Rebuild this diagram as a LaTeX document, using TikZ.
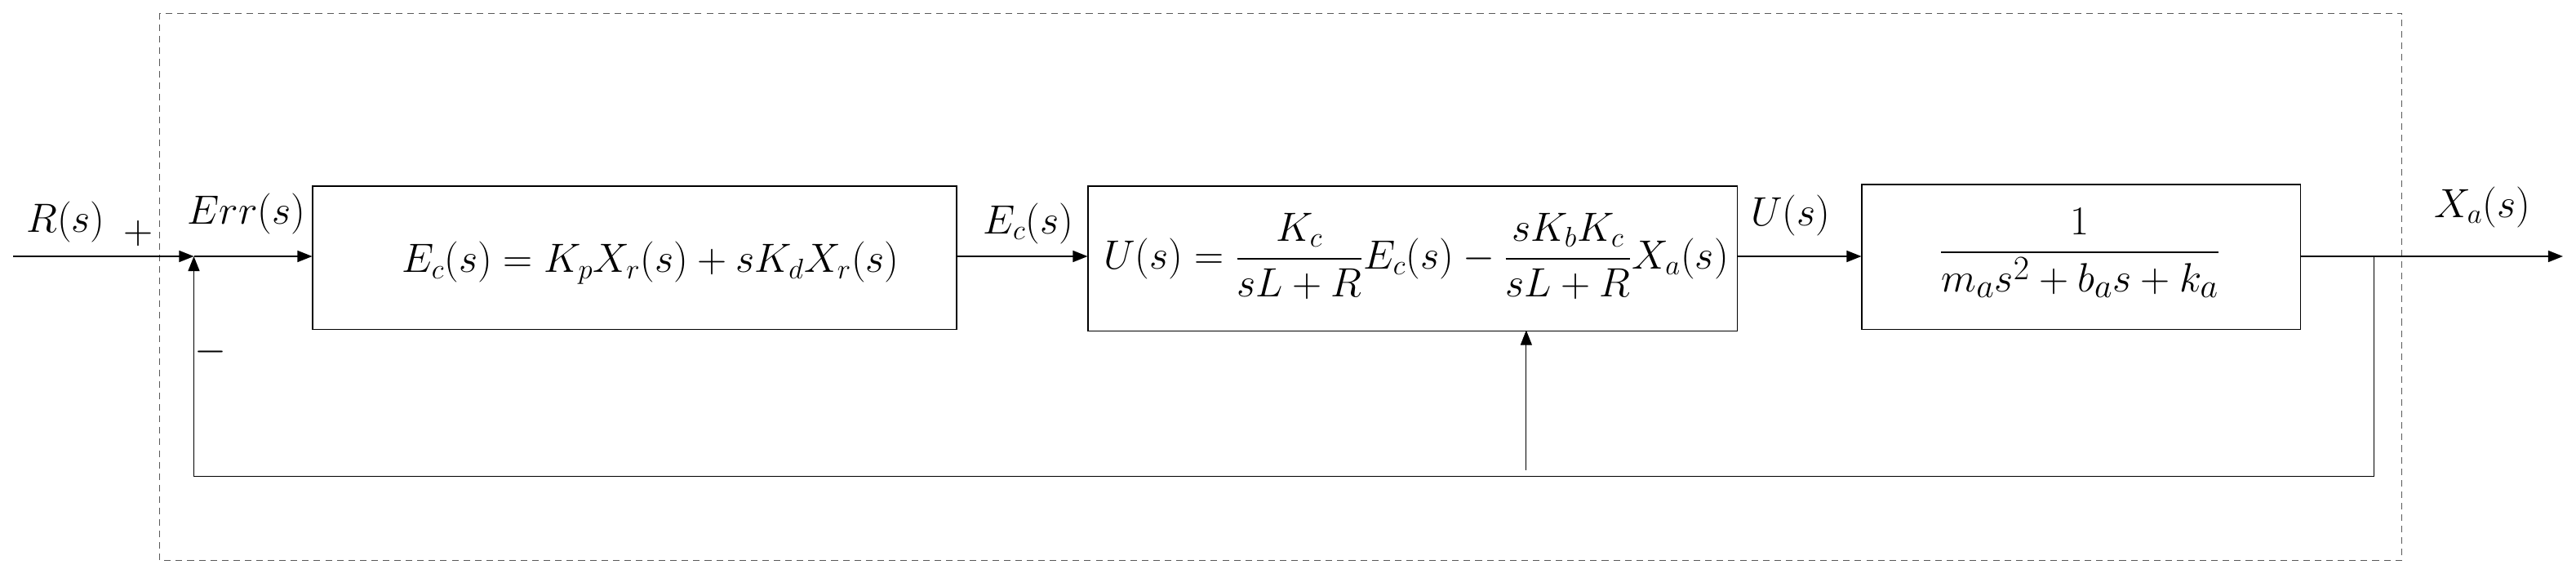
\documentclass[tikz,border=0pt]{standalone}
\usepackage{amsmath}
\usetikzlibrary{arrows.meta}
\begin{document}
\begin{tikzpicture}[x=1pt,y=-1pt,
  line width=0.7pt,
  arr/.style={-{Triangle[length=9pt,width=7pt]}},
  blk/.style={draw,inner sep=0pt,anchor=north west},
  lab/.style={font=\fontsize{23}{26}\selectfont}]
\useasboundingbox (0,0) rectangle (1568,351.3);
\draw[dashed,line width=0.5pt,gray!70!black,dash pattern=on 4pt off 3pt] (97,8) rectangle (1462,341);
% blocks
\node[blk,minimum width=392pt,minimum height=87pt] (b1) at (190,113) {};
\node[blk,minimum width=395pt,minimum height=88pt] (b2) at (662,113) {};
\node[blk,minimum width=267pt,minimum height=88pt] (b3) at (1133,112) {};
\node[font=\fontsize{23}{26}\selectfont] (t1) at (396,160) {$E_c(s)=K_pX_r(s)+sK_dX_r(s)$};
\node[font=\fontsize{24}{28}\selectfont] (t2) at (862,156) {$U(s)=\dfrac{K_c}{sL+R}E_c(s)-\dfrac{sK_bK_c}{sL+R}X_a(s)$};
\node[font=\fontsize{30}{34}\selectfont] (t3) at (1266,154) {$\dfrac{1}{m_as^2+b_as+k_a}$};
% coordinates
\coordinate (in) at (8,156);
\coordinate (sum) at (118,156);
\coordinate (br) at (1445,156);
\coordinate (out) at (1560,156);
\coordinate (bl) at (118,290);
\coordinate (brd) at (1445,290);
\coordinate (fb2) at (929,286);
\coordinate (fb2t) at (929,201);
% connectors
\draw[arr] (in) -- (sum);
\draw[arr] (sum) -- (b1.west |- sum);
\draw[arr] (b1.east |- sum) -- (b2.west |- sum);
\draw[arr] (b2.east |- sum) -- (b3.west |- sum);
\draw[arr] (b3.east |- br) -- (out);
\draw[arr] (br) -- (brd) -- (bl) -- (sum);
\draw[arr,line width=0.5pt] (fb2) -- (fb2t);
% labels
\node[lab] (lR) at (40,135) {$R(s)$};
\node[lab] (lp) at (84,142) {$+$};
\node[lab] (le) at (150,130) {$Err(s)$};
\node[lab] (lm) at (128,214) {$-$};
\node[lab] (lec) at (626,136) {$E_c(s)$};
\node[lab] (lu) at (1090,131) {$U(s)$};
\node[lab] (lx) at (1511,126) {$X_a(s)$};
\end{tikzpicture}
\end{document}
